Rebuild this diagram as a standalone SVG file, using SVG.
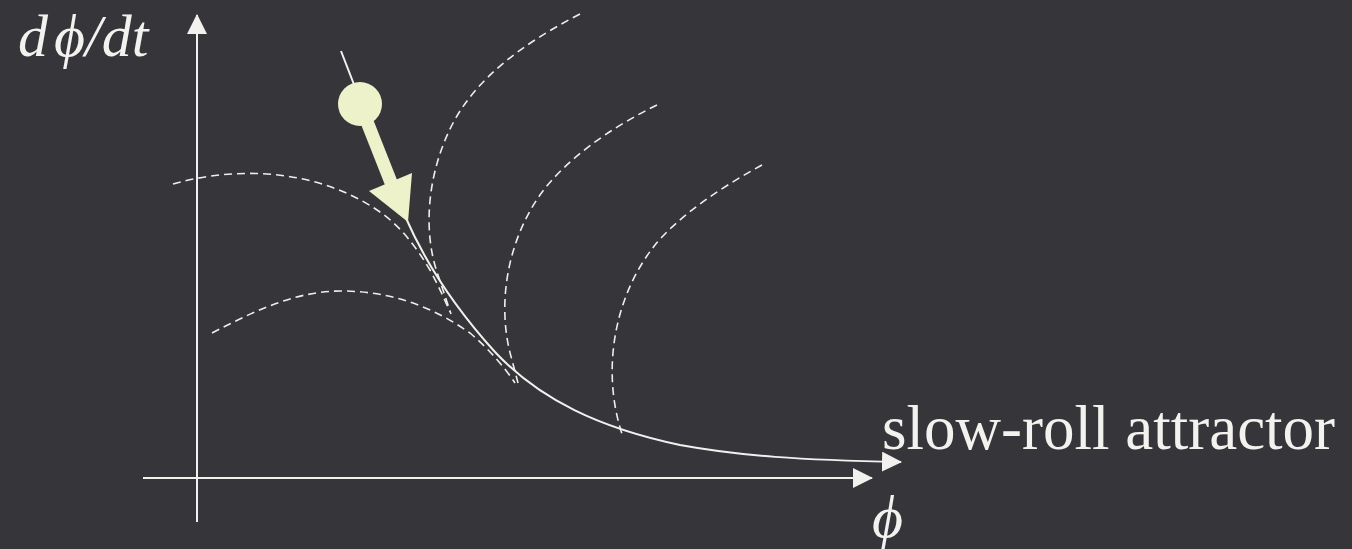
<svg xmlns="http://www.w3.org/2000/svg" width="1352" height="549" viewBox="0 0 1352 549">
<defs>
<style>
.ax{stroke:#f3f1ee;stroke-width:2;fill:none}
.dash{stroke:#f0eeeb;stroke-width:1.6;fill:none;stroke-dasharray:8 5}
.sol{stroke:#f3f1ee;stroke-width:2;fill:none}
.txt{font-family:"Liberation Serif","Times New Roman",serif;fill:#f4f2ef;font-size:60px}
.it{font-style:italic}
.ball{fill:#eef2ca}
</style>
<marker id="ah" markerUnits="userSpaceOnUse" markerWidth="20" markerHeight="20" refX="19" refY="10" orient="auto" viewBox="0 0 20 20">
<path d="M0,0 L20,10 L0,20 z" fill="#f3f1ee"/>
</marker>
</defs>
<rect width="1352" height="549" fill="#36353a"/>
<g id="connectors">
<line id="y-axis" class="ax" x1="197" y1="522" x2="197" y2="15" marker-end="url(#ah)"/>
<line id="x-axis" class="ax" x1="143" y1="478" x2="872" y2="478" marker-end="url(#ah)"/>
<path id="trajectory1" class="dash" d="M173,184 C240,165 320,170 380,212 C400,226 415,245 430,270 C438,285 444,298 450,312"/>
<path id="trajectory2" class="dash" d="M212,333 C260,308 300,290 345,291 C390,292 430,305 470,333 C490,350 505,368 515,383"/>
<path id="trajectory3" class="dash" d="M580,14 C520,45 475,80 452,125 C428,172 422,230 438,275 L451,314"/>
<path id="trajectory4" class="dash" d="M657,105 C610,128 565,160 540,195 C505,245 497,310 512,360 L518,383"/>
<path id="trajectory5" class="dash" d="M762,165 C720,188 680,215 655,245 C615,295 600,370 623,437"/>
<path id="attractor" class="sol" d="M341,51 L405,216 C425,262 455,308 495,352 C540,400 600,428 680,445 C740,456 800,460 901,462" marker-end="url(#ah)"/>
</g>
<g id="ball">
<line x1="360" y1="104" x2="392" y2="185" stroke="#eef2ca" stroke-width="13"/>
<polygon class="ball" points="369,191 412,173 408,222"/>
<circle class="ball" cx="360" cy="104" r="22"/>
</g>
<g id="label-y"><text class="txt it" x="18" y="56">d<tspan dx="6">ϕ</tspan>/dt</text></g>
<g id="label-x"><text class="txt it" x="872" y="537">ϕ</text></g>
<g id="label-attractor"><text class="txt" x="882" y="449" style="font-size:63px">slow-roll attractor</text></g>
</svg>
